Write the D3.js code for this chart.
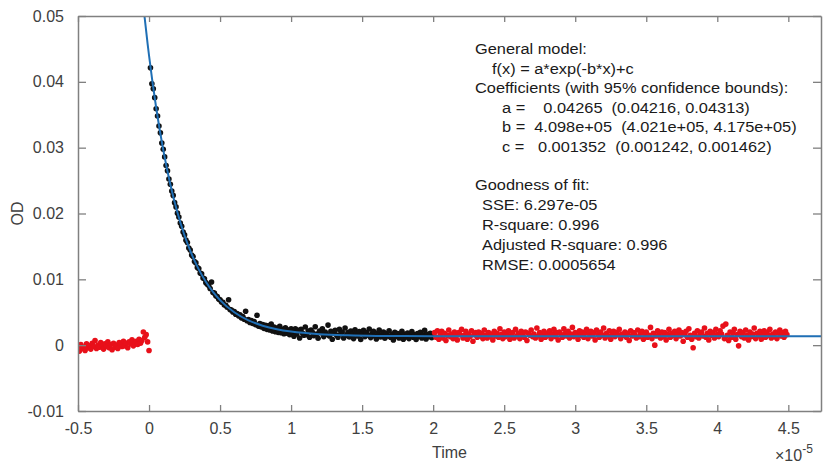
<!DOCTYPE html>
<html>
<head>
<meta charset="utf-8">
<script src="https://cdn.jsdelivr.net/npm/d3@7"></script>
<style>
  body { margin: 0; background: #fff; }
  svg { display: block; font-family: "Liberation Sans", Arial, sans-serif; }
  .fit-text { white-space: pre; }
</style>
</head>
<body>
<div id="chart"></div>
<script>
// Sample times are in units of 1e-5 s, one sample every 0.01
const sampleStep = 0.01;
const redLeftStart = -0.50;
const blackStart = 0.01;
const redRightStart = 2.01;

// Pre-pulse baseline (red, left)
const redLeftOD = [
  -0.0002, -0.0009, 0.0001, -0.0005, -0.0003, -0.0008, 0.0002, -0.0004, -0.0001, -0.0006,
  0.0003, -0.0002, 0.0007, -0.0005, 0.0000, -0.0003, 0.0004, -0.0001, -0.0006, 0.0002,
  -0.0002, 0.0005, -0.0004, 0.0001, -0.0007, 0.0003, -0.0003, 0.0000, -0.0005, 0.0004,
  0.0001, -0.0002, 0.0006, -0.0001, 0.0003, -0.0004, 0.0005, 0.0002, 0.0008, -0.0001,
  0.0004, 0.0006, 0.0001, 0.0009, 0.0003, 0.0007, 0.0020, 0.0012, 0.0016, 0.0005,
  -0.0008
];

// Fitted part of the decay (black)
const blackOD = [
  0.04215, 0.03972, 0.03895, 0.03760, 0.03590, 0.03480, 0.03330, 0.03225, 0.03070, 0.02975,
  0.02860, 0.02730, 0.02650, 0.02525, 0.02445, 0.02340, 0.02275, 0.02165, 0.02100, 0.02005,
  0.01945, 0.01855, 0.01805, 0.01720, 0.01675, 0.01595, 0.01560, 0.01475, 0.01445, 0.01370,
  0.01345, 0.01270, 0.01250, 0.01180, 0.01165, 0.01095, 0.01085, 0.01020, 0.01010, 0.00950,
  0.00925, 0.00905, 0.00860, 0.00960, 0.00800, 0.00790, 0.00750, 0.00740, 0.00700, 0.00690,
  0.00655, 0.00650, 0.00610, 0.00605, 0.00575, 0.00690, 0.00540, 0.00535, 0.00505, 0.00510,
  0.00470, 0.00480, 0.00445, 0.00460, 0.00415, 0.00435, 0.00395, 0.00515, 0.00370, 0.00390,
  0.00345, 0.00375, 0.00330, 0.00360, 0.00310, 0.00455, 0.00290, 0.00330, 0.00275, 0.00315,
  0.00255, 0.00300, 0.00240, 0.00295, 0.00230, 0.00320, 0.00215, 0.00275, 0.00205, 0.00260,
  0.00195, 0.00285, 0.00190, 0.00240, 0.00175, 0.00265, 0.00180, 0.00230, 0.00160, 0.00250,
  0.00205, 0.00135, 0.00250, 0.00170, 0.00225, 0.00110, 0.00240, 0.00185, 0.00150, 0.00275,
  0.00160, 0.00215, 0.00120, 0.00230, 0.00195, 0.00145, 0.00280, 0.00170, 0.00105, 0.00215,
  0.00190, 0.00250, 0.00130, 0.00200, 0.00165, 0.00305, 0.00140, 0.00210, 0.00090, 0.00185,
  0.00225, 0.00155, 0.00120, 0.00240, 0.00175, 0.00200, 0.00110, 0.00260, 0.00150, 0.00190,
  0.00125, 0.00215, 0.00165, 0.00100, 0.00235, 0.00180, 0.00140, 0.00205, 0.00085, 0.00170,
  0.00225, 0.00130, 0.00190, 0.00155, 0.00245, 0.00115, 0.00175, 0.00210, 0.00140, 0.00095,
  0.00185, 0.00230, 0.00125, 0.00160, 0.00200, 0.00105, 0.00175, 0.00140, 0.00220, 0.00120,
  0.00165, 0.00080, 0.00195, 0.00135, 0.00175, 0.00110, 0.00150, 0.00210, 0.00090, 0.00165,
  0.00125, 0.00185, 0.00100, 0.00145, 0.00205, 0.00120, 0.00160, 0.00085, 0.00175, 0.00135,
  0.00195, 0.00110, 0.00150, 0.00225, 0.00095, 0.00165, 0.00130, 0.00180, 0.00115, 0.00155
];

// Late baseline (red, right)
const redRightOD = [
  0.0019, 0.0012, 0.0022, 0.0009, 0.0016, 0.0021, 0.0011, 0.0018, 0.0007, 0.0015,
  0.0023, 0.0013, 0.0017, 0.0010, 0.0020, 0.0014, 0.0008, 0.0019, 0.0016, 0.0024,
  0.0011, 0.0015, 0.0021, 0.0009, 0.0017, 0.0013, 0.0022, 0.0006, 0.0016, 0.0019,
  0.0012, 0.0020, 0.0014, 0.0018, 0.0010, 0.0023, 0.0015, 0.0011, 0.0019, 0.0013,
  0.0017, 0.0008, 0.0021, 0.0014, 0.0018, 0.0012, 0.0025, 0.0016, 0.0010, 0.0020,
  0.0013, 0.0017, 0.0022, 0.0009, 0.0015, 0.0019, 0.0011, 0.0024, 0.0014, 0.0018,
  0.0010, 0.0021, 0.0016, 0.0012, 0.0020, 0.0007, 0.0018, 0.0015, 0.0023, 0.0013,
  0.0017, 0.0011, 0.0026, 0.0014, 0.0019, 0.0009, 0.0016, 0.0021, 0.0012, 0.0018,
  0.0015, 0.0022, 0.0010, 0.0017, 0.0024, 0.0013, 0.0019, 0.0008, 0.0020, 0.0016,
  0.0012, 0.0025, 0.0018, 0.0014, 0.0021, 0.0011, 0.0017, 0.0027, 0.0013, 0.0019,
  0.0016, 0.0009, 0.0022, 0.0015, 0.0020, 0.0012, 0.0018, 0.0024, 0.0010, 0.0017,
  0.0021, 0.0014, 0.0019, 0.0008, 0.0023, 0.0016, 0.0012, 0.0020, 0.0015, 0.0026,
  0.0011, 0.0018, 0.0014, 0.0022, 0.0009, 0.0017, 0.0021, 0.0013, 0.0019, 0.0016,
  0.0024, 0.0010, 0.0017, 0.0015, 0.0020, 0.0012, 0.0018, 0.0007, 0.0022, 0.0014,
  0.0019, 0.0016, 0.0011, 0.0023, 0.0013, 0.0018, 0.0021, 0.0009, 0.0016, 0.0020,
  0.0012, 0.0015, 0.0027, 0.0010, 0.0018, 0.0000, 0.0014, 0.0022, 0.0017, 0.0011,
  0.0020, 0.0013, 0.0019, 0.0008, 0.0016, 0.0024, 0.0012, 0.0018, 0.0015, 0.0021,
  0.0010, 0.0017, 0.0023, 0.0014, 0.0019, 0.0006, 0.0016, 0.0021, 0.0012, 0.0025,
  0.0015, 0.0009, -0.0004, 0.0018, 0.0013, 0.0022, 0.0011, 0.0017, 0.0020, 0.0014,
  0.0026, 0.0012, 0.0018, 0.0008, 0.0021, 0.0015, 0.0019, 0.0011, 0.0024, 0.0016,
  0.0013, 0.0022, 0.0017, 0.0029, 0.0010, 0.0032, 0.0015, 0.0007, 0.0020, 0.0012,
  0.0018, 0.0024, 0.0009, 0.0016, -0.0001, 0.0021, 0.0013, 0.0019, 0.0011, 0.0023,
  0.0015, 0.0008, 0.0020, 0.0013, 0.0017, 0.0026, 0.0010, 0.0018, 0.0014, 0.0021,
  0.0009, 0.0016, 0.0022, 0.0012, 0.0019, 0.0015, 0.0024, 0.0011, 0.0017, 0.0013,
  0.0020, 0.0010, 0.0018, 0.0023, 0.0014, 0.0019, 0.0012, 0.0021, 0.0016
];

// Fitted curve
const fitTime = [-0.032, -0.01, 0, 0.025, 0.05, 0.075, 0.10, 0.15, 0.20, 0.25, 0.30, 0.35, 0.40,
  0.45, 0.50, 0.60, 0.70, 0.80, 0.90, 1.00, 1.20, 1.40, 1.60, 1.80, 2.00, 2.50, 4.73];
const fitOD = [0.04998, 0.04578, 0.04400, 0.03985, 0.03610, 0.03272, 0.02966, 0.02441, 0.02014,
  0.01666, 0.01382, 0.01151, 0.00963, 0.00810, 0.00685, 0.00500, 0.00377, 0.00296, 0.00242,
  0.00206, 0.00166, 0.00149, 0.00141, 0.00138, 0.00136, 0.00135, 0.00135];

const xTicks = [-0.5, 0, 0.5, 1, 1.5, 2, 2.5, 3, 3.5, 4, 4.5];
const yTicks = [-0.01, 0, 0.01, 0.02, 0.03, 0.04, 0.05];

// Fit printout, as pasted into the figure (spaces kept)
const modelLines = [
  { indent: 0, text: 'General model:' },
  { indent: 1, text: 'f(x) = a*exp(-b*x)+c' },
  { indent: 0, text: 'Coefficients (with 95% confidence bounds):' },
  { indent: 2, text: 'a =    0.04265  (0.04216, 0.04313)' },
  { indent: 2, text: 'b =  4.098e+05  (4.021e+05, 4.175e+05)' },
  { indent: 2, text: 'c =   0.001352  (0.001242, 0.001462)' }
];
const gofLines = [
  { indent: 0, text: 'Goodness of fit:' },
  { indent: 3, text: 'SSE: 6.297e-05' },
  { indent: 3, text: 'R-square: 0.996' },
  { indent: 3, text: 'Adjusted R-square: 0.996' },
  { indent: 3, text: 'RMSE: 0.0005654' }
];

const width = 825, height = 463;
const margin = { top: 16, right: 4, bottom: 52, left: 78 };

const svg = d3.select('#chart').append('svg')
  .attr('width', width)
  .attr('height', height);

const x = d3.scaleLinear().domain([-0.5, 4.73]).range([margin.left, width - margin.right]);
const y = d3.scaleLinear().domain([-0.01, 0.05]).range([height - margin.bottom, margin.top]);

const axisColor = '#808080';
const textColor = '#404040';

svg.append('defs').append('clipPath').attr('id', 'plot-clip')
  .append('rect')
  .attr('x', x.range()[0]).attr('y', y.range()[1])
  .attr('width', x.range()[1] - x.range()[0])
  .attr('height', y.range()[0] - y.range()[1]);

// Data points
const toPoints = (vals, start) => vals.map((v, i) => ({ t: start + i * sampleStep, od: v }));

const plot = svg.append('g').attr('clip-path', 'url(#plot-clip)');

function drawDots(points, color) {
  plot.append('g')
    .selectAll('circle')
    .data(points)
    .enter()
    .append('circle')
    .attr('cx', d => x(d.t))
    .attr('cy', d => y(d.od))
    .attr('r', 2.8)
    .attr('fill', color);
}

drawDots(toPoints(redLeftOD, redLeftStart), '#e8101a');
drawDots(toPoints(blackOD, blackStart), '#111111');
drawDots(toPoints(redRightOD, redRightStart), '#e8101a');

// Fit line on top
const fitLine = d3.line()
  .x((d, i) => x(fitTime[i]))
  .y(d => y(d))
  .curve(d3.curveMonotoneX);

plot.append('path')
  .datum(fitOD)
  .attr('d', fitLine)
  .attr('fill', 'none')
  .attr('stroke', '#1f6fb5')
  .attr('stroke-width', 2);

// Axes (MATLAB style: box, inward ticks on all sides)
const fmt = d => String(d);

const xAxisB = d3.axisBottom(x).tickValues(xTicks).tickSizeInner(-6).tickSizeOuter(0).tickPadding(12).tickFormat(fmt);
const xAxisT = d3.axisTop(x).tickValues(xTicks).tickSizeInner(-6).tickSizeOuter(0).tickFormat('');
const yAxisL = d3.axisLeft(y).tickValues(yTicks).tickSizeInner(-8).tickSizeOuter(0).tickPadding(14).tickFormat(fmt);
const yAxisR = d3.axisRight(y).tickValues(yTicks).tickSizeInner(-8).tickSizeOuter(0).tickFormat('');

function styleAxis(g) {
  g.selectAll('path').attr('stroke', axisColor).attr('stroke-width', 1.5);
  g.selectAll('line').attr('stroke', axisColor).attr('stroke-width', 1.3);
  g.selectAll('text').attr('fill', textColor).attr('font-size', '16px')
    .attr('font-family', '"Liberation Sans", Arial, sans-serif');
}

svg.append('g').attr('transform', `translate(0,${y.range()[0]})`).call(xAxisB).call(styleAxis);
svg.append('g').attr('transform', `translate(0,${y.range()[1]})`).call(xAxisT).call(styleAxis);
svg.append('g').attr('transform', `translate(${x.range()[0]},0)`).call(yAxisL).call(styleAxis);
svg.append('g').attr('transform', `translate(${x.range()[1]},0)`).call(yAxisR).call(styleAxis);

// Axis labels
svg.append('text')
  .attr('x', (x.range()[0] + x.range()[1]) / 2)
  .attr('y', 458)
  .attr('text-anchor', 'middle')
  .attr('fill', textColor)
  .attr('font-size', '16px')
  .text('Time');

svg.append('text')
  .attr('transform', `translate(23,${(y.range()[0] + y.range()[1]) / 2}) rotate(-90)`)
  .attr('text-anchor', 'middle')
  .attr('fill', textColor)
  .attr('font-size', '16px')
  .text('OD');

const expo = svg.append('text')
  .attr('x', 775)
  .attr('y', 461)
  .attr('fill', textColor)
  .attr('font-size', '16px');
expo.append('tspan').text('\u00d710');
expo.append('tspan').attr('dy', -8).attr('font-size', '12px').text('-5');

// Fit summary text (slightly wide lettering, like the reference)
const indentX = [475, 492, 502, 482];
const stretch = 1.07;

function drawBlock(lines, top, step) {
  const g = svg.append('g')
    .attr('fill', '#1a1a1a')
    .attr('font-size', '15.3px');
  lines.forEach((line, i) => {
    g.append('text')
      .attr('class', 'fit-text')
      .attr('xml:space', 'preserve')
      .attr('transform', `translate(${indentX[line.indent]},${top + i * step}) scale(${stretch},1)`)
      .text(line.text);
  });
}

drawBlock(modelLines, 54, 19.6);
drawBlock(gofLines, 190, 20);
</script>
</body>
</html>
